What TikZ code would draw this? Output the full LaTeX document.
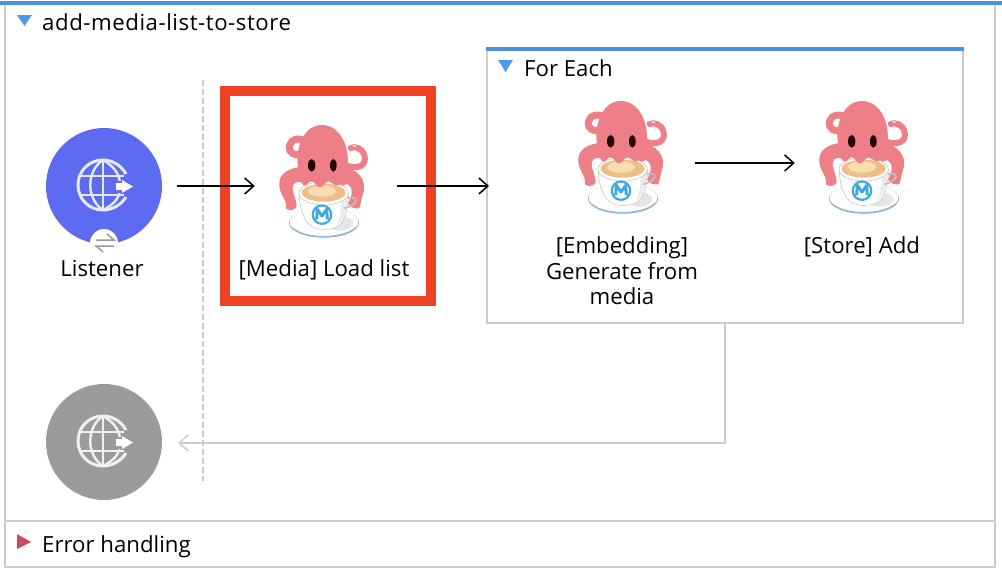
\documentclass[tikz,border=0pt]{standalone}
\usepackage{fontspec}
\setmainfont{Open Sans}
\usetikzlibrary{arrows.meta}
\definecolor{panelgrey}{HTML}{CCCCCC}
\definecolor{flowblue}{HTML}{4A8FE0}
\definecolor{triblue}{HTML}{4C9BEA}
\definecolor{errred}{HTML}{CB4A5E}
\definecolor{tomato}{HTML}{EE4023}
\definecolor{listenerblue}{HTML}{5C6BF0}
\definecolor{errgrey}{HTML}{9B9B9B}
\definecolor{octo}{HTML}{EE7F86}
\definecolor{coffee}{HTML}{EDBE8A}
\definecolor{coffeelight}{HTML}{F7DDB0}
\definecolor{muleblue}{HTML}{3FA9E0}
\tikzset{
  x=1pt,y=-1pt,
  lab/.style={font=\fontsize{22.2}{26}\selectfont,text=black,inner sep=0pt,align=center},
  panelline/.style={draw=panelgrey,line width=2pt},
  flow/.style={-{Straight Barb[length=9pt,width=16pt,line width=1.5pt]},line width=1.5pt,black},
  errflow/.style={-{Straight Barb[length=9pt,width=16pt,line width=1.5pt]},line width=1.5pt,panelgrey},
  iconbox/.style={inner sep=0pt,minimum width=142pt,minimum height=100pt},
  octopus/.pic={
    % saucer
    \fill[black!35] (192,338) ellipse [x radius=105, y radius=45];
    \fill[white] (192,336) ellipse [x radius=103, y radius=43];
    \draw[muleblue!70,line width=.8pt] (100,355) .. controls (140,388) and (245,388) .. (288,352);
    \fill[black!10] (240,340) ellipse [x radius=40, y radius=22];
    % lower tentacles
    \fill[octo] (125,170) .. controls (85,175) and (55,190) .. (58,228)
       .. controls (60,255) and (82,270) .. (78,296) .. controls (92,305) and (112,298) .. (110,285)
       .. controls (106,255) and (92,240) .. (100,225) .. controls (106,215) and (115,212) .. (130,220) -- cycle;
    \fill[octo] (245,165) .. controls (290,180) and (325,205) .. (308,255)
       .. controls (303,270) and (302,285) .. (298,295) .. controls (285,297) and (270,292) .. (264,280)
       .. controls (280,255) and (278,230) .. (262,222) -- (240,230) -- cycle;
    % upper tentacles
    \draw[octo,line width=7pt,line cap=round] (130,90) .. controls (100,80) and (82,100) .. (90,122) .. controls (98,136) and (115,136) .. (125,132);
    \draw[octo,line width=6pt,line cap=round] (255,165) .. controls (295,182) and (322,165) .. (313,135) .. controls (306,114) and (285,108) .. (272,114);
    % cup
    \fill[white,draw=black!25,line width=.5pt] (117,250) .. controls (120,310) and (138,348) .. (170,356)
       .. controls (190,360) and (218,359) .. (238,347) .. controls (258,325) and (264,290) .. (266,250) -- cycle;
    \fill[black!8] (225,352) .. controls (250,335) and (262,290) .. (265,255) -- (245,270) .. controls (245,300) and (240,335) .. (225,352) -- cycle;
    \draw[black!25,line width=1.6pt] (264,265) .. controls (297,255) and (297,285) .. (252,295);
    \fill[white,draw=black!25,line width=.5pt] (191,250) ellipse [x radius=74, y radius=35];
    \fill[coffee] (191,248) ellipse [x radius=66, y radius=27];
    \fill[coffeelight] (186,243) ellipse [x radius=42, y radius=17];
    % head
    \fill[octo] (118,190) .. controls (100,130) and (125,45) .. (185,45)
       .. controls (245,45) and (275,120) .. (260,190) .. controls (256,210) and (247,222) .. (232,226)
       .. controls (222,228) and (215,214) .. (205,214) .. controls (195,214) and (190,234) .. (178,232)
       .. controls (168,230) and (165,214) .. (155,214) .. controls (145,214) and (140,232) .. (130,226)
       .. controls (122,216) and (120,205) .. (118,190) -- cycle;
    \fill[white!60!octo] (283,108) ellipse [x radius=6, y radius=3];
    \fill[black!85!red] (155,166) ellipse [x radius=11, y radius=19];
    \fill[black!85!red] (220,166) ellipse [x radius=10, y radius=19];
    % logo
    \fill[muleblue] (186,314) circle [radius=31];
    \fill[white] (186,314) circle [radius=24];
    \draw[muleblue,line width=3pt,line join=round] (170,328) -- (172,298) -- (186,318) -- (200,298) -- (202,328);
  },
  globeicon/.pic={
    \draw[pic actions,line width=3pt,line cap=butt]
      (23,-11) .. controls (18,-20) and (9,-25) .. (0,-25)
      .. controls (-14,-25) and (-25,-14) .. (-25,0)
      .. controls (-25,14) and (-14,25) .. (0,25)
      .. controls (9,25) and (18,20) .. (23,12);
    \draw[pic actions,line width=2.4pt] (0,-25) .. controls (-17,-14) and (-17,14) .. (0,25);
    \draw[pic actions,line width=2.4pt] (0,-25) .. controls (14,-17) and (17,-8) .. (17,0);
    \draw[pic actions,line width=2.4pt] (17,3) .. controls (17,12) and (12,19) .. (0,25);
    \draw[pic actions,line width=2.4pt] (0,-25) -- (0,25);
    \draw[pic actions,line width=2.4pt] (-23,-9) -- (21,-9);
    \draw[pic actions,line width=2.4pt] (-23,10) -- (21,10);
    \fill[halo] (11,-4) rectangle (32,7.5);
    \fill[white] (13,-2) -- (19,-2) -- (19,-5) -- (30,1.5) -- (19,8) -- (19,5) -- (13,5) -- cycle;
  }
}
\begin{document}
\begin{tikzpicture}
\useasboundingbox (0,0) rectangle (1002,576);
\fill[white] (0,0) rectangle (1002,576);

% outer panel
\draw[panelline] (5,3) -- (5,567) -- (995,567) -- (995,3);
\draw[panelline] (5,521) -- (995,521);
\draw[flowblue,line width=4pt] (0,3) -- (1002,3);
\fill[triblue] (17,15) -- (32,15) -- (24.5,26) -- cycle;
\fill[errred] (17,534) -- (31,542) -- (17,549) -- cycle;
\node[lab,anchor=base west] (title) at (42,30) {\addfontfeature{LetterSpace=2.5}add-media-list-to-store};
\node[lab,anchor=base west] (errh) at (42,552) {Error handling};

% divider
\draw[panelgrey,line width=1.5pt,dash pattern=on 6pt off 3pt] (203,80) -- (203,481);

% For Each scope
\node[draw=panelgrey,line width=2pt,fill=white,inner sep=0pt,minimum width=476pt,minimum height=275pt] (foreach) at (725,185.5) {};
\draw[flowblue,line width=4pt] (486,49) -- (964,49);
\fill[triblue] (498,60) -- (513,60) -- (505.5,72) -- cycle;
\node[lab,anchor=base west] (fetitle) at (524,76) {For Each};

% listener
\node[circle,fill=listenerblue,minimum size=116pt,inner sep=0pt] (listener) at (104,186) {};
\colorlet{halo}{listenerblue}
\pic[draw=white!85!listenerblue] at (103,185) {globeicon};
\node[circle,fill=white,minimum size=28pt,inner sep=0pt] (exch) at (104,243) {};
\draw[errgrey,line width=1.5pt] (96,240) -- (114,240) -- (107,234);
\draw[errgrey,line width=1.5pt] (114,246) -- (96,246) -- (103,252);
\node[lab,anchor=base] (listenerlab) at (102,276) {Listener};

% error source
\node[circle,fill=errgrey,minimum size=116pt,inner sep=0pt] (errsrc) at (104,442) {};
\colorlet{halo}{errgrey}
\pic[draw=white!85!errgrey] at (103,441) {globeicon};

% highlighted processor
\draw[tomato,line width=10pt] (225,91) rectangle (431,301);
\node[iconbox] (media) at (326,186) {};
\pic[shift={(260,110)},scale=1/3] {octopus};
\node[lab,anchor=base] (medialab) at (324,276) {[Media] Load list};

% embedding
\node[iconbox] (embed) at (625,163) {};
\pic[shift={(559,86)},scale=1/3] {octopus};
\node[lab,anchor=base] (embedlab) at (622,253) {[Embedding]};
\node[lab,anchor=base] (embedlabb) at (622,279) {Generate from};
\node[lab,anchor=base] (embedlabc) at (622,304) {media};

% store
\node[iconbox] (store) at (865,163) {};
\pic[shift={(800,86)},scale=1/3] {octopus};
\node[lab,anchor=base] (storelab) at (862,253) {[Store] Add};

% connectors
\draw[flow] ([xshift=15pt]listener.east) -- (media.west);
\draw[flow] (media.east) -- ([xshift=3pt]foreach.west |- media.east);
\draw[flow] ([xshift=-1pt]embed.east) -- ([xshift=1pt]store.west);
\coordinate (fedown) at (foreach.south);
\draw[errflow] (fedown) -- (fedown |- {0,443}) -- ([xshift=16pt,yshift=-1pt]errsrc.east);
\end{tikzpicture}
\end{document}
